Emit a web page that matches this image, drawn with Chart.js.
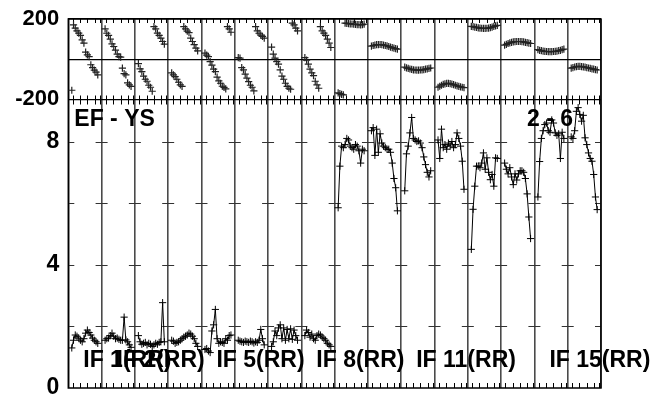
<!DOCTYPE html>
<html><head><meta charset="utf-8">
<script src="https://cdn.jsdelivr.net/npm/chart.js@4.4.1/dist/chart.umd.min.js"></script>
<style>html,body{margin:0;padding:0;background:#fff;}canvas{display:block;}</style>
</head><body>
<canvas id="c" width="659" height="395"></canvas>
<script>
// ---- data: 16 IFs x 16 channels ----
const ifCount = 16;
const ifLabels = ['IF 1(RR)', 'IF 2(RR)', 'IF 5(RR)', 'IF 8(RR)', 'IF 11(RR)', 'IF 15(RR)'];
const ifLabelIndex = [1, 2, 5, 8, 11, 15];
const baselineLabel = 'EF - YS';
const stokesLabel = '2 - 6';
const phaseTicks = [-200, 0, 200];
const ampTicks = [0, 2, 4, 6, 8];

// phase (degrees)
const ph01 = [-155, 171, 155, 141, 130, 118, 96, 80, 35, 21, 13, -28, -42, -55, -65, -78];
const ph02 = [151, 129, 118, 100, 76, 63, 45, 25, 13, 10, -45, -72, -78, -118, -128, -136];
const ph03 = [-22, -48, -62, -85, -100, -110, -130, -140, -160, 162, 151, 130, 118, 105, 88, 75];
const ph04 = [-68, -78, -87, -100, -115, -128, -136, 162, 151, 140, 132, 105, 88, 72, 55, 41];
const ph05 = [30, 20, 13, -12, -30, -50, -62, -90, -108, -120, -135, -141, -148, 162, 151, 134];
const ph06 = [8, 5, -42, -53, -75, -95, -112, -130, -140, -158, 162, 141, 129, 120, 113, 105];
const ph07 = [60, 25, 5, -12, -25, -53, -85, -100, -120, -136, -145, -150, 179, 171, 155, 141];
const ph08 = [8, -5, -25, -50, -68, -82, -110, -128, -145, 162, 141, 130, 118, 100, 80, 58];
const ph09 = [-168, -172, -175, -178, 179, 178, 177, 176, 175, 174, 173, 172, 172, 171, 172, 174];
const ph10 = [65, 68, 70, 72, 72, 73, 72, 70, 68, 66, 63, 60, 57, 55, 52, 50];
const ph11 = [-40, -43, -46, -49, -51, -53, -54, -55, -55, -54, -53, -52, -50, -48, -46, -44];
const ph12 = [-140, -135, -130, -126, -123, -121, -121, -122, -124, -127, -130, -133, -136, -138, -140, -142];
const ph13 = [163, 162, 160, 158, 156, 155, 154, 153, 153, 154, 155, 157, 160, 163, 166, 168];
const ph14 = [70, 74, 78, 81, 84, 86, 87, 88, 88, 88, 87, 86, 84, 82, 80, 78];
const ph15 = [47, 44, 42, 40, 39, 38, 37, 37, 37, 38, 39, 40, 42, 44, 47, 50];
const ph16 = [-45, -42, -39, -37, -36, -36, -37, -38, -40, -42, -44, -46, -48, -50, -52, -54];

// amplitude
const amp01 = [1.30, 1.55, 1.72, 1.68, 1.62, 1.55, 1.50, 1.60, 1.78, 1.88, 1.80, 1.72, 1.62, 1.55, 1.50, 1.45];
const amp02 = [1.55, 1.60, 1.62, 1.70, 1.78, 1.68, 1.60, 1.62, 1.58, 1.55, 1.55, 2.30, 1.56, 1.50, 1.40, 1.32];
const amp03 = [1.70, 1.50, 1.42, 1.45, 1.48, 1.40, 1.45, 1.42, 1.35, 1.40, 1.45, 1.42, 1.48, 1.50, 2.77, 1.50];
const amp04 = [1.55, 1.52, 1.45, 1.48, 1.50, 1.55, 1.60, 1.65, 1.68, 1.72, 1.78, 1.75, 1.68, 1.60, 1.45, 1.35];
const amp05 = [1.25, 1.28, 1.20, 1.15, 1.85, 2.05, 2.55, 1.60, 1.45, 1.50, 1.48, 1.45, 1.60, 1.55, 1.70, 1.72];
const amp06 = [1.55, 1.52, 1.50, 1.48, 1.52, 1.50, 1.48, 1.52, 1.50, 1.46, 1.50, 1.48, 1.55, 1.90, 1.60, 1.40];
const amp07 = [1.35, 1.50, 1.85, 1.70, 1.95, 2.05, 1.60, 1.95, 1.55, 1.90, 1.60, 1.92, 1.58, 1.88, 1.70, 1.55];
const amp08 = [1.70, 1.88, 1.80, 1.65, 1.75, 1.60, 1.55, 1.70, 1.75, 1.72, 1.65, 1.60, 1.55, 1.45, 1.40, 1.35];
const amp09 = [5.85, 7.20, 7.85, 7.80, 7.90, 8.10, 8.05, 7.85, 7.80, 7.75, 7.90, 7.85, 7.70, 7.30, 7.75, 7.70];
const amp10 = [8.35, 8.45, 7.55, 8.40, 7.65, 8.25, 7.95, 7.85, 7.80, 7.75, 7.75, 7.65, 7.30, 6.80, 6.50, 5.75];
const amp11 = [6.40, 7.60, 7.85, 8.28, 8.78, 8.10, 8.05, 8.00, 8.02, 7.95, 7.80, 7.50, 7.25, 7.00, 6.85, 7.05];
const amp12 = [8.05, 7.45, 8.40, 7.80, 7.90, 7.75, 7.95, 7.85, 8.00, 7.80, 7.90, 8.28, 8.10, 7.85, 7.36, 6.45];
const amp13 = [4.50, 5.80, 6.55, 7.20, 7.20, 7.15, 7.30, 7.63, 7.10, 7.47, 7.00, 6.76, 6.93, 6.55, 7.47, 7.45];
const amp14 = [7.30, 7.10, 6.95, 7.15, 6.85, 6.60, 6.95, 6.75, 6.95, 7.05, 7.05, 7.00, 6.80, 6.30, 5.55, 4.85];
const amp15 = [6.20, 7.35, 8.10, 8.35, 8.55, 8.60, 8.35, 8.30, 8.70, 8.60, 8.28, 8.20, 8.25, 7.45, 8.30, 8.10];
const amp16 = [8.15, 8.10, 8.35, 8.98, 9.10, 8.88, 8.66, 8.85, 8.12, 7.90, 7.63, 7.45, 7.36, 6.93, 6.20, 5.79];

const phaseSeries = [ph01, ph02, ph03, ph04, ph05, ph06, ph07, ph08, ph09, ph10, ph11, ph12, ph13, ph14, ph15, ph16];
const ampSeries = [amp01, amp02, amp03, amp04, amp05, amp06, amp07, amp08, amp09, amp10, amp11, amp12, amp13, amp14, amp15, amp16];

// channel position inside an IF column
function chanX(ifIdx, c, n) { return ifIdx + 0.105 + 0.78 * c / (n - 1); }

const datasets = [];
ampSeries.forEach((arr, i) => {
  datasets.push({
    yAxisID: 'yAmp', showLine: true,
    data: arr.map((v, c) => ({x: chanX(i, c, arr.length), y: v})),
    borderColor: '#000', borderWidth: 1, tension: 0,
    pointStyle: 'cross', pointRadius: 3.6, pointBorderWidth: 1,
    pointBorderColor: '#000', pointBackgroundColor: '#000'
  });
});
phaseSeries.forEach((arr, i) => {
  datasets.push({
    yAxisID: 'yPh', showLine: false,
    data: arr.map((v, c) => ({x: chanX(i, c, arr.length), y: v})),
    pointStyle: 'cross', pointRadius: 3.6, pointBorderWidth: 1.2,
    pointBorderColor: '#222', pointBackgroundColor: '#222'
  });
});

const minorFrac = [0.13, 0.35, 0.57, 0.79, 0.945];
const FONT = '"Liberation Sans", Arial, sans-serif';

const deco = {
  id: 'deco',
  beforeDatasetsDraw(chart) {
    const {ctx, chartArea: a, scales} = chart;
    const xs = scales.x, yA = scales.yAmp, yP = scales.yPh;
    ctx.save();
    ctx.strokeStyle = '#000';
    ctx.lineWidth = 1;
    ctx.beginPath();
    const mid = Math.round(yP.getPixelForValue(phaseTicks[0])) + 0.5;
    for (let i = 0; i < ifCount; i++) {
      for (const f of minorFrac) {
        const x = Math.round(xs.getPixelForValue(i + f)) + 0.5;
        ctx.moveTo(x, a.top); ctx.lineTo(x, a.top + 4);
        ctx.moveTo(x, mid - 4); ctx.lineTo(x, mid + 5);
        ctx.moveTo(x, a.bottom); ctx.lineTo(x, a.bottom - 5);
      }
    }
    ctx.stroke();
    ctx.strokeStyle = '#333';
    ctx.beginPath();
    for (const v of ampTicks) {
      if (v === 0) continue;
      const y = Math.round(yA.getPixelForValue(v)) + 0.5;
      for (let i = 0; i <= ifCount; i++) {
        const x = xs.getPixelForValue(i);
        ctx.moveTo(Math.max(a.left, x - 6), y);
        ctx.lineTo(Math.min(a.right, x + 6), y);
      }
    }
    ctx.stroke();
    ctx.strokeStyle = '#000';
    ctx.lineWidth = 1.5;
    ctx.strokeRect(a.left, a.top, a.right - a.left, a.bottom - a.top);
    ctx.restore();
  },
  afterDraw(chart) {
    const {ctx, chartArea: a, scales} = chart;
    const xs = scales.x, yA = scales.yAmp;
    ctx.save();
    ctx.fillStyle = '#000';
    ctx.font = 'bold 23px ' + FONT;
    ctx.textBaseline = 'alphabetic';
    ctx.textAlign = 'left';
    const topBase = yA.getPixelForValue(8.5);
    ctx.fillText(baselineLabel, a.left + 6, topBase);
    ctx.fillText(stokesLabel, xs.getPixelForValue(13.78), topBase);
    const lblBase = yA.getPixelForValue(0.69);
    ifLabels.forEach((t, k) => {
      ctx.fillText(t, xs.getPixelForValue(ifLabelIndex[k] - 1 + 0.45), lblBase);
    });
    ctx.restore();
  }
};

function fixY(s) { s.width = 68.3; s.paddingTop = 0; s.paddingBottom = 0; }

new Chart(document.getElementById('c'), {
  type: 'scatter',
  data: {datasets},
  plugins: [deco],
  options: {
    responsive: false,
    animation: false,
    devicePixelRatio: 1,
    layout: {padding: {top: 19, right: 58, bottom: 7, left: 0}},
    plugins: {legend: {display: false}, tooltip: {enabled: false}},
    scales: {
      x: {
        type: 'linear', min: 0, max: ifCount,
        afterFit: s => { s.height = 0; s.paddingLeft = 0; s.paddingRight = 0; },
        ticks: {display: false, stepSize: 1},
        grid: {color: '#4a4a4a', lineWidth: 1.6, drawTicks: false},
        border: {display: false}
      },
      yPh: {
        type: 'linear', position: 'left', stack: 'v', stackWeight: 80.3, weight: 2,
        min: -200, max: 200,
        afterBuildTicks: s => { s.ticks = phaseTicks.map(v => ({value: v})); },
        afterFit: fixY,
        ticks: {
          padding: 9, color: '#000', autoSkip: false,
          font: {family: FONT, size: 22, weight: 'bold'},
          callback: v => (v === 0 ? '' : String(v))
        },
        grid: {color: '#000', lineWidth: 1.2, drawTicks: false},
        border: {display: false}
      },
      yAmp: {
        type: 'linear', position: 'left', stack: 'v', stackWeight: 288.7, weight: 1,
        min: 0, max: 9.37,
        afterBuildTicks: s => { s.ticks = ampTicks.map(v => ({value: v})); },
        afterFit: fixY,
        ticks: {
          padding: 9, color: '#000', autoSkip: false,
          font: {family: FONT, size: 23, weight: 'bold'},
          callback: v => (v % 4 === 0 ? String(v) : '')
        },
        grid: {display: false, drawTicks: false},
        border: {display: false}
      }
    }
  }
});
</script>
</body></html>
